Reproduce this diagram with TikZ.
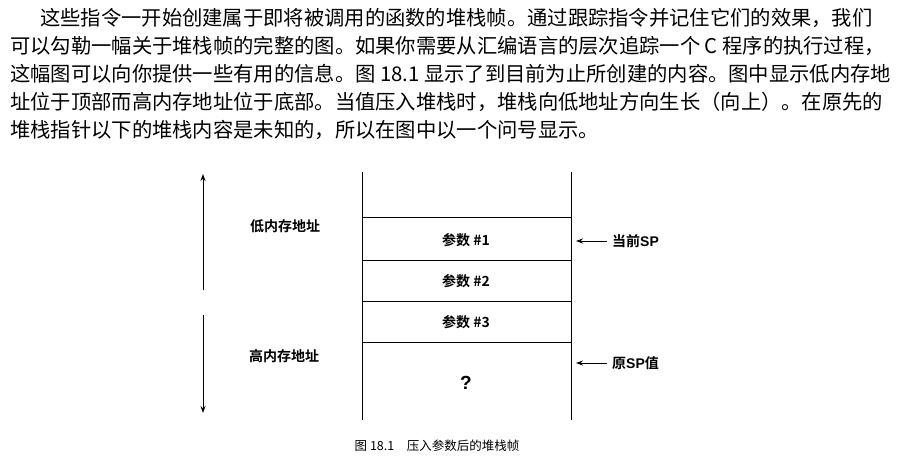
\documentclass[tikz,border=0pt]{standalone}
\usepackage{fontspec}
\setmainfont{Liberation Serif}
\newfontfamily\cjk{Noto Sans CJK SC}
\newfontfamily\cjkb{Noto Sans CJK SC Bold}
\newfontfamily\sfb{Liberation Sans Bold}
\usetikzlibrary{arrows.meta}
\begin{document}
\begin{tikzpicture}[x=1pt,y=1pt,
  para/.style={anchor=west,inner sep=0pt,font=\cjk\fontsize{20.3}{21}\selectfont},
  cell/.style={inner sep=0pt,font=\cjkb\fontsize{14}{15}\selectfont},
  side/.style={inner sep=0pt,font=\cjkb\fontsize{14}{15}\selectfont},
  line/.style={line width=0.9pt},
  arr/.style={line width=0.9pt,-{Stealth[length=7pt,width=5pt]}}]
\useasboundingbox[fill=white] (0,0) rectangle (917,-466);
\node[para] (l1) at (40,-18) {这些指令一开始创建属于即将被调用的函数的堆栈帧。通过跟踪指令并记住它们的效果，我们};
\node[para] (l2) at (10,-46) {可以勾勒一幅关于堆栈帧的完整的图。如果你需要从汇编语言的层次追踪一个 C 程序的执行过程，};
\node[para] (l3) at (10,-74) {这幅图可以向你提供一些有用的信息。图 18.1 显示了到目前为止所创建的内容。图中显示低内存地};
\node[para] (l4) at (10,-102) {址位于顶部而高内存地址位于底部。当值压入堆栈时，堆栈向低地址方向生长（向上）。在原先的};
\node[para] (l5) at (10,-130) {堆栈指针以下的堆栈内容是未知的，所以在图中以一个问号显示。};
% stack
\coordinate (tl) at (362,-172); \coordinate (bl) at (362,-420);
\coordinate (tr) at (571,-172); \coordinate (br) at (571,-420);
\draw[line] (tl) -- (bl); \draw[line] (tr) -- (br);
\foreach \y/\n in {217/a,260/b,301/c,342/d}{
  \coordinate (\n l) at (362,-\y); \coordinate (\n r) at (571,-\y);
  \draw[line] (\n l) -- (\n r);}
\node[cell] (p1) at (466,-240) {参数 \#1};
\node[cell] (p2) at (466,-281) {参数 \#2};
\node[cell] (p3) at (466,-322) {参数 \#3};
\node[inner sep=0pt,font=\sfb\fontsize{19}{20}\selectfont] (q) at (466,-383) {?};
% left arrows
\coordinate (u1) at (203,-290); \coordinate (u2) at (203,-174);
\coordinate (d1) at (203,-315); \coordinate (d2) at (203,-413);
\draw[arr] (u1) -- (u2);
\draw[arr] (d1) -- (d2);
\node[side] (lo) at (285,-226) {低内存地址};
\node[side] (hi) at (284,-356) {高内存地址};
% right labels
\node[side,anchor=west] (sp) at (612,-241) {当前{\sfb SP}};
\node[side,anchor=west] (osp) at (612,-363) {原{\sfb SP}值};
\draw[arr] ([xshift=-5pt]sp.west) -- (576,-241);
\draw[arr] ([xshift=-5pt]osp.west) -- (576,-363);
\node[inner sep=0pt,font=\cjk\fontsize{12.5}{13}\selectfont] (cap) at (437,-446) {图 18.1\quad 压入参数后的堆栈帧};
\end{tikzpicture}
\end{document}
